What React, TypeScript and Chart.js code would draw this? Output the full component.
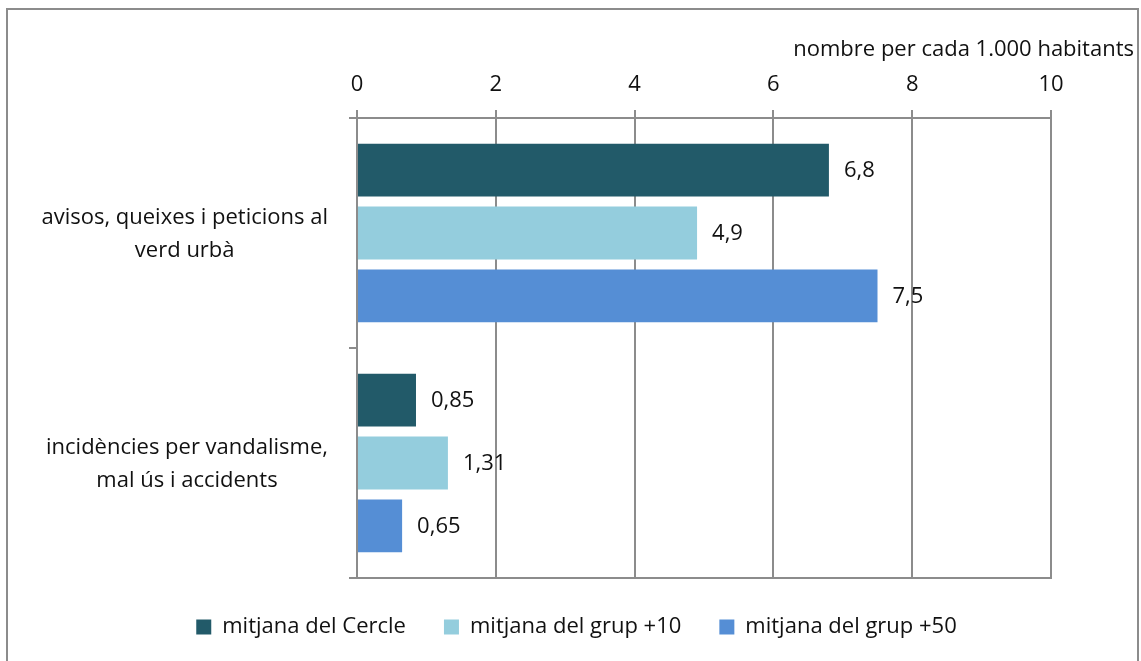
import React, { useEffect, useRef } from "react";
import { Chart, registerables } from "chart.js";

Chart.register(...registerables);

const categories: string[][] = [
  ["avisos, queixes i peticions al", "verd urbà"],
  ["incidències per vandalisme,", "mal ús i accidents"],
];
const seriesNames = ["mitjana del Cercle", "mitjana del grup +10", "mitjana del grup +50"];
const cercle = [6.8, 0.85];
const grup10 = [4.9, 1.31];
const grup50 = [7.5, 0.65];
const valueLabels = [
  ["6,8", "0,85"],
  ["4,9", "1,31"],
  ["7,5", "0,65"],
];
const xTicks = [0, 2, 4, 6, 8, 10];
const unitTitle = "nombre per cada 1.000 habitants";

const colors = ["#225A69", "#94CDDD", "#558ED5"];
const FONT = "'Open Sans', 'Noto Sans', sans-serif";
const FS = 22;
const GRID = "#8c8c8c";
const TEXT = "#111111";

const customDraw = {
  id: "customDraw",
  afterDraw(chart: any) {
    const { ctx, chartArea } = chart;
    const yScale = chart.scales.y;
    ctx.save();
    // bottom border line
    ctx.strokeStyle = GRID;
    ctx.lineWidth = 2;
    ctx.beginPath();
    ctx.moveTo(chartArea.left - 8, chartArea.bottom);
    ctx.lineTo(chartArea.right + 1, chartArea.bottom);
    ctx.stroke();

    ctx.font = `${FS}px ${FONT}`;
    ctx.fillStyle = TEXT;
    // category labels: block right-aligned, lines centered
    const lineH = 33;
    categories.forEach((lines, i) => {
      const cy = yScale.getPixelForValue(i);
      const maxW = Math.max(...lines.map((l) => ctx.measureText(l).width));
      const right = chartArea.left - 29;
      const cx = right - maxW / 2;
      ctx.textAlign = "center";
      ctx.textBaseline = "middle";
      lines.forEach((l, j) => {
        const y = cy + (j - (lines.length - 1) / 2) * lineH + 1;
        ctx.fillText(l, cx, y);
      });
    });

    // value labels
    ctx.textAlign = "left";
    ctx.textBaseline = "middle";
    chart.data.datasets.forEach((ds: any, di: number) => {
      const meta = chart.getDatasetMeta(di);
      meta.data.forEach((bar: any, i: number) => {
        ctx.fillText(valueLabels[di][i], bar.x + 15, bar.y + 1);
      });
    });

    // unit title
    ctx.textAlign = "right";
    ctx.textBaseline = "alphabetic";
    ctx.fillText(unitTitle, 1134, 56);
    ctx.restore();
  },
};

export default function App() {
  const ref = useRef<HTMLCanvasElement>(null);
  useEffect(() => {
    document.body.style.margin = "0";
    document.body.style.overflow = "hidden";
    const chart = new Chart(ref.current!, {
      type: "bar",
      data: {
        labels: categories.map((c) => c.join(" ")),
        datasets: [cercle, grup10, grup50].map((d, i) => ({
          label: seriesNames[i],
          data: d,
          backgroundColor: colors[i],
          borderWidth: 0,
          categoryPercentage: 0.82,
          barPercentage: 0.84,
        })),
      },
      options: {
        indexAxis: "y",
        animation: false,
        responsive: false,
        layout: { padding: { left: 12, right: 0, top: 0, bottom: 13 } },
        scales: {
          x: {
            position: "top",
            min: 0,
            max: 10,
            afterBuildTicks: (scale: any) => {
              scale.ticks = xTicks.map((v) => ({ value: v }));
            },
            afterFit: (scale: any) => {
              scale.height = 118;
              scale.paddingRight = 90;
            },
            ticks: {
              color: TEXT,
              font: { family: FONT, size: FS },
              padding: 12,
              maxRotation: 0,
            },
            grid: { color: GRID, lineWidth: 2, tickLength: 8, drawTicks: true },
            border: { color: GRID, width: 2 },
          },
          y: {
            afterFit: (scale: any) => {
              scale.width = 345;
            },
            ticks: { display: false },
            grid: {
              offset: true,
              drawOnChartArea: false,
              drawTicks: true,
              tickLength: 8,
              color: GRID,
              lineWidth: 2,
            },
            border: { color: GRID, width: 2 },
          },
        },
        plugins: {
          legend: {
            position: "bottom",
            labels: {
              boxWidth: 15,
              boxHeight: 15,
              padding: 38,
              color: TEXT,
              font: { family: FONT, size: FS, lineHeight: 1 },
            },
          },
          tooltip: { enabled: false },
        },
      },
      plugins: [customDraw],
    });
    return () => chart.destroy();
  }, []);
  return (
    <div style={{ position: "relative", width: 1141, height: 661 }}>
      <div
        style={{
          position: "absolute",
          left: 6,
          top: 8,
          width: 1133,
          height: 700,
          border: "2px solid #8c8c8c",
          boxSizing: "border-box",
        }}
      />
      <canvas
        ref={ref}
        width={1141}
        height={661}
        style={{ position: "absolute", left: 0, top: 0 }}
      />
    </div>
  );
}
